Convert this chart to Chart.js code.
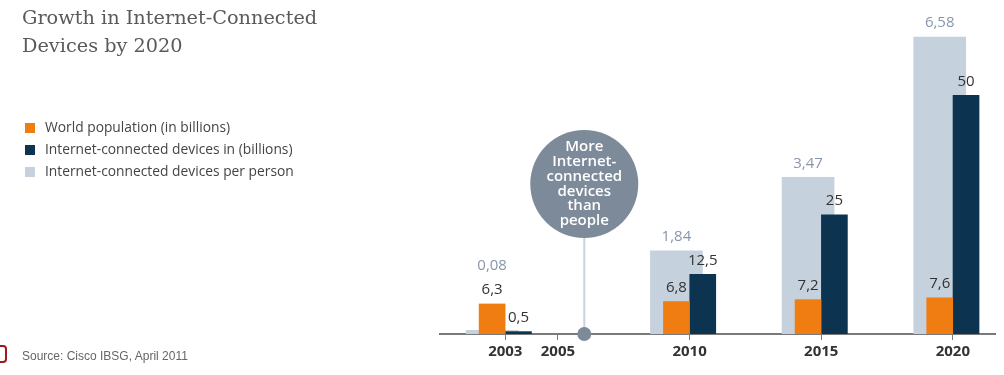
<!DOCTYPE html>
<html>
<head>
<meta charset="utf-8">
<script src="https://cdn.jsdelivr.net/npm/chart.js@4"></script>
<style>
  body { margin: 0; background: #fff; }
  #wrap { position: relative; width: 1004px; height: 375px; overflow: hidden; }
  #chart { position: absolute; left: 0; top: 0; }
  #title { position: absolute; left: 22px; top: 4px; font: 19.3px/28px "DejaVu Serif", serif; color: #5a5a5a; }
  #legend { position: absolute; left: 25px; top: 116px; font: 13.8px "Open Sans", sans-serif; color: #444; }
  #legend div { height: 22px; line-height: 22px; white-space: nowrap; }
  #legend span { display: inline-block; width: 10px; height: 10px; margin-right: 10px; vertical-align: -1px; }
  #source { position: absolute; left: 22px; top: 349px; font: 12px "Liberation Sans", sans-serif; color: #666; }
  #logo { position: absolute; left: -7px; top: 345px; width: 10px; height: 14px; border: 2px solid #a3161b; border-radius: 4px; }
</style>
</head>
<body>
<div id="wrap">
  <canvas id="chart" width="1004" height="375"></canvas>
  <div id="title">Growth in Internet-Connected<br>Devices by 2020</div>
  <div id="legend"></div>
  <div id="logo"></div>
  <div id="source">Source: Cisco IBSG, April 2011</div>
</div>
<script>
// values
var years = [2003, 2005, 2010, 2015, 2020];
var barYears = [2003, 2010, 2015, 2020];
var population = [6.3, 6.8, 7.2, 7.6];
var devices = [0.5, 12.5, 25, 50];
var perPerson = [0.08, 1.84, 3.47, 6.58];
var crossoverYear = 2006;
var calloutLines = ['More', 'Internet-', 'connected', 'devices', 'than', 'people'];

var labels = ['World population (in billions)', 'Internet-connected devices in (billions)', 'Internet-connected devices per person'];
var colors = ['#f07d12', '#0c3450', '#c5d1dc'];

function points(vals) {
    return barYears.map(function (x, i) { return { x: x, y: vals[i] }; });
}

// html legend
var legend = document.getElementById('legend');
labels.forEach(function (l, i) {
    var row = document.createElement('div');
    row.innerHTML = '<span style="background:' + colors[i] + '"></span>' + l;
    legend.append(row);
});

var xMin = 2000.52, xMax = 2021.6;
var half = 0.5; // half a bar width, in years, to put bars either side of the tick

// value labels above every bar
var valueLabels = {
    id: 'valueLabels',
    afterDatasetsDraw: function (chart) {
        var ctx = chart.ctx;
        ctx.save();
        ctx.font = '15px "Open Sans", sans-serif';
        ctx.textAlign = 'center';
        ctx.textBaseline = 'middle';
        var m0 = chart.getDatasetMeta(0), m1 = chart.getDatasetMeta(1);
        chart.data.datasets.forEach(function (ds, d) {
            var meta = chart.getDatasetMeta(d);
            ctx.fillStyle = d == 2 ? '#8797ab' : '#333';
            meta.data.forEach(function (bar, i) {
                var txt = String(ds.data[i].y).replace('.', ',');
                var y = bar.y - 14;
                if (d == 2) {
                    // keep the per-person figure above the other two labels
                    y = Math.min(y, Math.min(m0.data[i].y, m1.data[i].y) - 14 - 24);
                }
                ctx.fillText(txt, bar.x, y);
            });
        });
        ctx.restore();
    }
};

// the "more devices than people" bubble
var callout = {
    id: 'callout',
    afterDatasetsDraw: function (chart) {
        var ctx = chart.ctx;
        var x = chart.scales.x.getPixelForValue(crossoverYear);
        var base = chart.chartArea.bottom;
        var cy = base - 150, r = 54;
        ctx.save();
        ctx.strokeStyle = '#c9d3dd';
        ctx.lineWidth = 2;
        ctx.beginPath();
        ctx.moveTo(x, cy);
        ctx.lineTo(x, base);
        ctx.stroke();
        ctx.fillStyle = '#7c8a9a';
        ctx.beginPath();
        ctx.arc(x, base, 7, 0, Math.PI * 2);
        ctx.fill();
        ctx.beginPath();
        ctx.arc(x, cy, r, 0, Math.PI * 2);
        ctx.fill();
        ctx.fillStyle = '#fff';
        ctx.font = '600 15px "Open Sans", sans-serif';
        ctx.textAlign = 'center';
        ctx.textBaseline = 'middle';
        var lh = 14.8;
        calloutLines.forEach(function (t, i) {
            ctx.fillText(t, x, cy + (i - (calloutLines.length - 1) / 2) * lh);
        });
        ctx.restore();
    }
};

new Chart(document.getElementById('chart'), {
    type: 'bar',
    data: {
        datasets: [{
            label: labels[0],
            data: points(population),
            backgroundColor: colors[0],
            barThickness: 26,
            grouped: false,
            xAxisID: 'xLeft',
            yAxisID: 'y'
        }, {
            label: labels[1],
            data: points(devices),
            backgroundColor: colors[1],
            barThickness: 26,
            grouped: false,
            xAxisID: 'xRight',
            yAxisID: 'y'
        }, {
            label: labels[2],
            data: points(perPerson),
            backgroundColor: colors[2],
            barThickness: 52,
            grouped: false,
            xAxisID: 'xLeft',
            yAxisID: 'yRatio'
        }]
    },
    options: {
        responsive: false,
        animation: false,
        layout: { padding: { left: 440, right: 9, top: 0, bottom: 11 } },
        plugins: { legend: { display: false }, tooltip: { enabled: false } },
        scales: {
            x: {
                type: 'linear',
                min: xMin,
                max: xMax,
                offset: false,
                afterBuildTicks: function (axis) {
                    axis.ticks = years.map(function (v) { return { value: v }; });
                },
                border: { color: '#7a7a7a', width: 2 },
                grid: { drawOnChartArea: false, tickLength: 6, color: '#7a7a7a', offset: false },
                ticks: {
                    callback: function (v) { return String(v); },
                    font: { family: 'Open Sans', size: 15, weight: 'bold' },
                    color: '#333',
                    padding: 3,
                    maxRotation: 0,
                    autoSkip: false
                }
            },
            xLeft: { type: 'linear', display: false, offset: false, min: xMin + half, max: xMax + half },
            xRight: { type: 'linear', display: false, offset: false, min: xMin - half, max: xMax - half },
            y: { display: false, min: 0, max: 70 },
            yRatio: { display: false, min: 0, max: 7.4 }
        }
    },
    plugins: [valueLabels, callout]
});
</script>
</body>
</html>
